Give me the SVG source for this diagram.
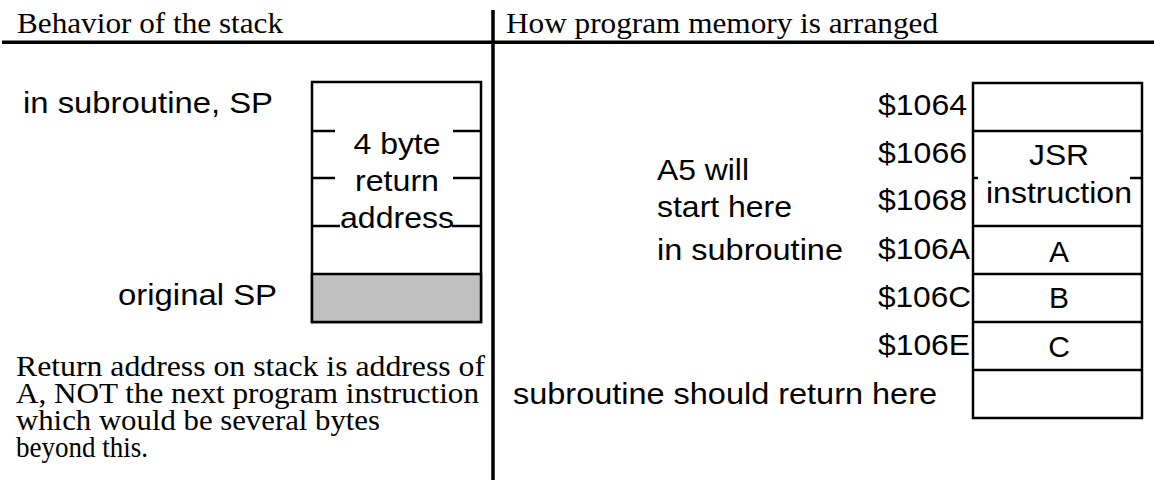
<svg xmlns="http://www.w3.org/2000/svg" width="1154" height="480" viewBox="0 0 1154 480">
<style>
.t{font-family:"Liberation Serif","Times New Roman",serif;font-size:30px;fill:#000}
.a{font-family:"Liberation Sans",Arial,sans-serif;font-size:30px;fill:#000}
.c{text-anchor:middle}
.box{fill:#fff;stroke:#000;stroke-width:2.5}
.ln{stroke:#000;stroke-width:2.5;fill:none}
.rule{stroke:#000;stroke-width:3.5;fill:none}
</style>
<rect width="1154" height="480" fill="#fff"/>
<g id="frame">
<line class="rule" x1="2" y1="42.3" x2="1154" y2="42.3"/>
<line class="rule" x1="493" y1="10" x2="493" y2="480"/>
<text class="t" x="17" y="33" textLength="266" lengthAdjust="spacingAndGlyphs">Behavior of the stack</text>
<text class="t" x="506" y="33" textLength="432" lengthAdjust="spacingAndGlyphs">How program memory is arranged</text>
</g>
<g id="stack">
<rect class="box" x="312" y="82" width="169" height="240"/>
<rect x="312" y="274" width="169" height="48" fill="#c0c0c0" stroke="#000" stroke-width="2.5"/>
<line class="ln" x1="312" y1="131" x2="335" y2="131"/>
<line class="ln" x1="453" y1="131" x2="481" y2="131"/>
<line class="ln" x1="312" y1="178" x2="335" y2="178"/>
<line class="ln" x1="453" y1="178" x2="481" y2="178"/>
<line class="ln" x1="312" y1="226" x2="340" y2="226"/>
<line class="ln" x1="452" y1="226" x2="481" y2="226"/>
<text class="a c" x="397" y="154" textLength="87" lengthAdjust="spacingAndGlyphs">4 byte</text>
<text class="a c" x="397" y="191" textLength="84" lengthAdjust="spacingAndGlyphs">return</text>
<text class="a c" x="397" y="228" textLength="114" lengthAdjust="spacingAndGlyphs">address</text>
</g>
<g id="stack-labels">
<text class="a" x="23" y="113" textLength="250" lengthAdjust="spacingAndGlyphs">in subroutine, SP</text>
<text class="a" x="118" y="305" textLength="159" lengthAdjust="spacingAndGlyphs">original SP</text>
</g>
<g id="note">
<text class="t" x="16" y="376" textLength="469" lengthAdjust="spacingAndGlyphs">Return address on stack is address of</text>
<text class="t" x="16" y="403" textLength="463" lengthAdjust="spacingAndGlyphs">A, NOT the next program instruction</text>
<text class="t" x="16" y="430" textLength="364" lengthAdjust="spacingAndGlyphs">which would be several bytes</text>
<text class="t" x="16" y="457" textLength="132" lengthAdjust="spacingAndGlyphs">beyond this.</text>
</g>
<g id="memory">
<rect class="box" x="973" y="83" width="169" height="335"/>
<line class="ln" x1="973" y1="131" x2="1142" y2="131"/>
<line class="ln" x1="973" y1="178" x2="978" y2="178"/>
<line class="ln" x1="1130" y1="178" x2="1142" y2="178"/>
<line class="ln" x1="973" y1="226" x2="1142" y2="226"/>
<line class="ln" x1="973" y1="274" x2="1142" y2="274"/>
<line class="ln" x1="973" y1="322" x2="1142" y2="322"/>
<line class="ln" x1="973" y1="370" x2="1142" y2="370"/>
<text class="a c" x="1059" y="165" textLength="60" lengthAdjust="spacingAndGlyphs">JSR</text>
<text class="a c" x="1059" y="203" textLength="146" lengthAdjust="spacingAndGlyphs">instruction</text>
<text class="a c" x="1059" y="262" font-size="31">A</text>
<text class="a c" x="1059" y="308" font-size="31">B</text>
<text class="a c" x="1059" y="357" font-size="31">C</text>
</g>
<g id="addresses">
<text class="a" x="878" y="115" textLength="89" lengthAdjust="spacingAndGlyphs">$1064</text>
<text class="a" x="878" y="163" textLength="89" lengthAdjust="spacingAndGlyphs">$1066</text>
<text class="a" x="878" y="210" textLength="89" lengthAdjust="spacingAndGlyphs">$1068</text>
<text class="a" x="878" y="259" textLength="92" lengthAdjust="spacingAndGlyphs">$106A</text>
<text class="a" x="878" y="307" textLength="93" lengthAdjust="spacingAndGlyphs">$106C</text>
<text class="a" x="878" y="355" textLength="92" lengthAdjust="spacingAndGlyphs">$106E</text>
</g>
<g id="memory-labels">
<text class="a" x="657" y="180" textLength="92" lengthAdjust="spacingAndGlyphs">A5 will</text>
<text class="a" x="657" y="217" textLength="135" lengthAdjust="spacingAndGlyphs">start here</text>
<text class="a" x="657" y="260" textLength="186" lengthAdjust="spacingAndGlyphs">in subroutine</text>
<text class="a" x="513" y="404" textLength="424" lengthAdjust="spacingAndGlyphs">subroutine should return here</text>
</g>
<g id="connectors"></g>
</svg>
